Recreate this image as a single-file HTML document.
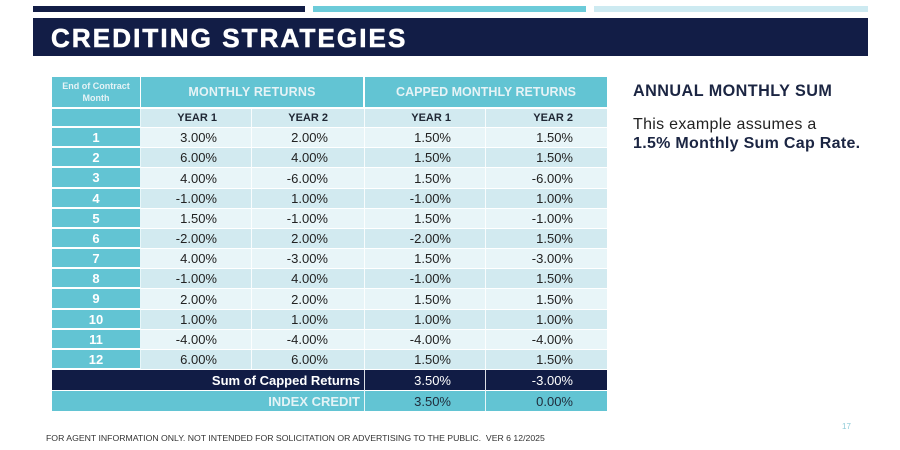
<!DOCTYPE html>
<html><head><meta charset="utf-8">
<style>
*{margin:0;padding:0;box-sizing:border-box}
html,body{width:900px;height:450px;background:#fff;overflow:hidden;font-family:"Liberation Sans",Arial,sans-serif}
.abs{position:absolute}
.bar{position:absolute;top:6px;height:6px}
.title{position:absolute;left:33px;top:18px;width:835px;height:38px;background:#121d46}
.title span{position:absolute;left:18px;top:6.5px;font-size:26px;line-height:26px;font-weight:bold;color:#fff;letter-spacing:2.1px;-webkit-text-stroke:0.6px #fff}
.row{position:absolute;left:52px;width:555px;display:flex}
.c{height:100%;display:flex;align-items:center;font-size:13px;color:#222;border-right:1px solid rgba(255,255,255,0.85);border-bottom:1px solid #fff}
.c:last-child{border-right:none}
.c1{width:89px;background:#62c4d3;color:#fff;font-weight:bold;justify-content:center;border-bottom:2px solid #fff}
.c2{width:111px;justify-content:flex-end;padding-right:34px}
.c3{width:113px;justify-content:flex-end;padding-right:36px}
.c4{width:121px;justify-content:flex-end;padding-right:34px}
.c5{width:121px;justify-content:flex-end;padding-right:34px}
.dk .c2,.dk .c3,.dk .c4,.dk .c5{background:#d2eaf0}
.lt .c2,.lt .c3,.lt .c4,.lt .c5{background:#e8f5f8}
.yr .c{font-weight:bold;font-size:11px;color:#1f2633}
</style></head><body>
<div class="bar" style="left:33px;width:272px;background:#121d46"></div>
<div class="bar" style="left:313px;width:273px;background:#6ccbd9"></div>
<div class="bar" style="left:594px;width:274px;background:#cdeaf1"></div>
<div class="title"><span>CREDITING STRATEGIES</span></div>

<!-- header -->
<div class="row" style="top:77px;height:30px">
  <div style="width:89px;height:30px;background:#62c4d3;border-right:1px solid #fff;color:#e6f3f6;font-size:9px;font-weight:bold;line-height:12px;text-align:center;padding-top:3px">End of Contract<br>Month</div>
  <div style="width:224px;height:30px;background:#62c4d3;border-right:2px solid #fff;color:#e6f3f6;font-size:12.5px;font-weight:bold;letter-spacing:0.2px;display:flex;align-items:center;justify-content:center">MONTHLY RETURNS</div>
  <div style="width:242px;height:30px;background:#62c4d3;color:#e6f3f6;font-size:12.5px;font-weight:bold;display:flex;align-items:center;justify-content:center">CAPPED MONTHLY RETURNS</div>
</div>

<div class="row dk yr" style="top:109px;height:19px"><div class="c c1"></div><div class="c c2">YEAR 1</div><div class="c c3">YEAR 2</div><div class="c c4">YEAR 1</div><div class="c c5">YEAR 2</div></div>
<div class="row lt" style="top:128px;height:20px"><div class="c c1">1</div><div class="c c2">3.00%</div><div class="c c3">2.00%</div><div class="c c4">1.50%</div><div class="c c5">1.50%</div></div>
<div class="row dk" style="top:148px;height:20px"><div class="c c1">2</div><div class="c c2">6.00%</div><div class="c c3">4.00%</div><div class="c c4">1.50%</div><div class="c c5">1.50%</div></div>
<div class="row lt" style="top:168px;height:21px"><div class="c c1">3</div><div class="c c2">4.00%</div><div class="c c3">-6.00%</div><div class="c c4">1.50%</div><div class="c c5">-6.00%</div></div>
<div class="row dk" style="top:189px;height:20px"><div class="c c1">4</div><div class="c c2">-1.00%</div><div class="c c3">1.00%</div><div class="c c4">-1.00%</div><div class="c c5">1.00%</div></div>
<div class="row lt" style="top:209px;height:20px"><div class="c c1">5</div><div class="c c2">1.50%</div><div class="c c3">-1.00%</div><div class="c c4">1.50%</div><div class="c c5">-1.00%</div></div>
<div class="row dk" style="top:229px;height:20px"><div class="c c1">6</div><div class="c c2">-2.00%</div><div class="c c3">2.00%</div><div class="c c4">-2.00%</div><div class="c c5">1.50%</div></div>
<div class="row lt" style="top:249px;height:20px"><div class="c c1">7</div><div class="c c2">4.00%</div><div class="c c3">-3.00%</div><div class="c c4">1.50%</div><div class="c c5">-3.00%</div></div>
<div class="row dk" style="top:269px;height:20px"><div class="c c1">8</div><div class="c c2">-1.00%</div><div class="c c3">4.00%</div><div class="c c4">-1.00%</div><div class="c c5">1.50%</div></div>
<div class="row lt" style="top:289px;height:21px"><div class="c c1">9</div><div class="c c2">2.00%</div><div class="c c3">2.00%</div><div class="c c4">1.50%</div><div class="c c5">1.50%</div></div>
<div class="row dk" style="top:310px;height:20px"><div class="c c1">10</div><div class="c c2">1.00%</div><div class="c c3">1.00%</div><div class="c c4">1.00%</div><div class="c c5">1.00%</div></div>
<div class="row lt" style="top:330px;height:20px"><div class="c c1">11</div><div class="c c2">-4.00%</div><div class="c c3">-4.00%</div><div class="c c4">-4.00%</div><div class="c c5">-4.00%</div></div>
<div class="row dk" style="top:350px;height:20px"><div class="c c1">12</div><div class="c c2">6.00%</div><div class="c c3">6.00%</div><div class="c c4">1.50%</div><div class="c c5">1.50%</div></div>

<div class="row" style="top:370px;height:21px;background:#111c45">
  <div class="c" style="width:313px;justify-content:flex-end;padding-right:4px;color:#fff;font-weight:bold;font-size:13px">Sum of Capped Returns</div>
  <div class="c c4" style="color:#fff">3.50%</div>
  <div class="c c5" style="color:#fff">-3.00%</div>
</div>
<div class="row" style="top:391px;height:20px;background:#62c4d3">
  <div class="c" style="width:313px;justify-content:flex-end;padding-right:4px;color:#e3f3f6;font-weight:bold;font-size:13px;border-bottom:none">INDEX CREDIT</div>
  <div class="c c4" style="color:#1f2b3a;border-bottom:none">3.50%</div>
  <div class="c c5" style="color:#1f2b3a;border-bottom:none">0.00%</div>
</div>

<div class="abs" style="left:633px;top:83px;font-size:16.2px;line-height:16px;font-weight:bold;color:#1b2542;letter-spacing:0.45px;white-space:nowrap">ANNUAL MONTHLY SUM</div>
<div class="abs" style="left:633px;top:115px;font-size:16px;line-height:19px;color:#222;letter-spacing:0.3px;white-space:nowrap">This example assumes a<br><b style="color:#1b2542">1.5% Monthly Sum Cap Rate.</b></div>

<div class="abs" style="left:842px;top:422px;font-size:8px;color:#8fcbd8">17</div>
<div class="abs" style="left:46px;top:433px;font-size:8.7px;line-height:10px;color:#333;white-space:nowrap">FOR AGENT INFORMATION ONLY. NOT INTENDED FOR SOLICITATION OR ADVERTISING TO THE PUBLIC.&nbsp; VER 6 12/2025</div>
</body></html>
